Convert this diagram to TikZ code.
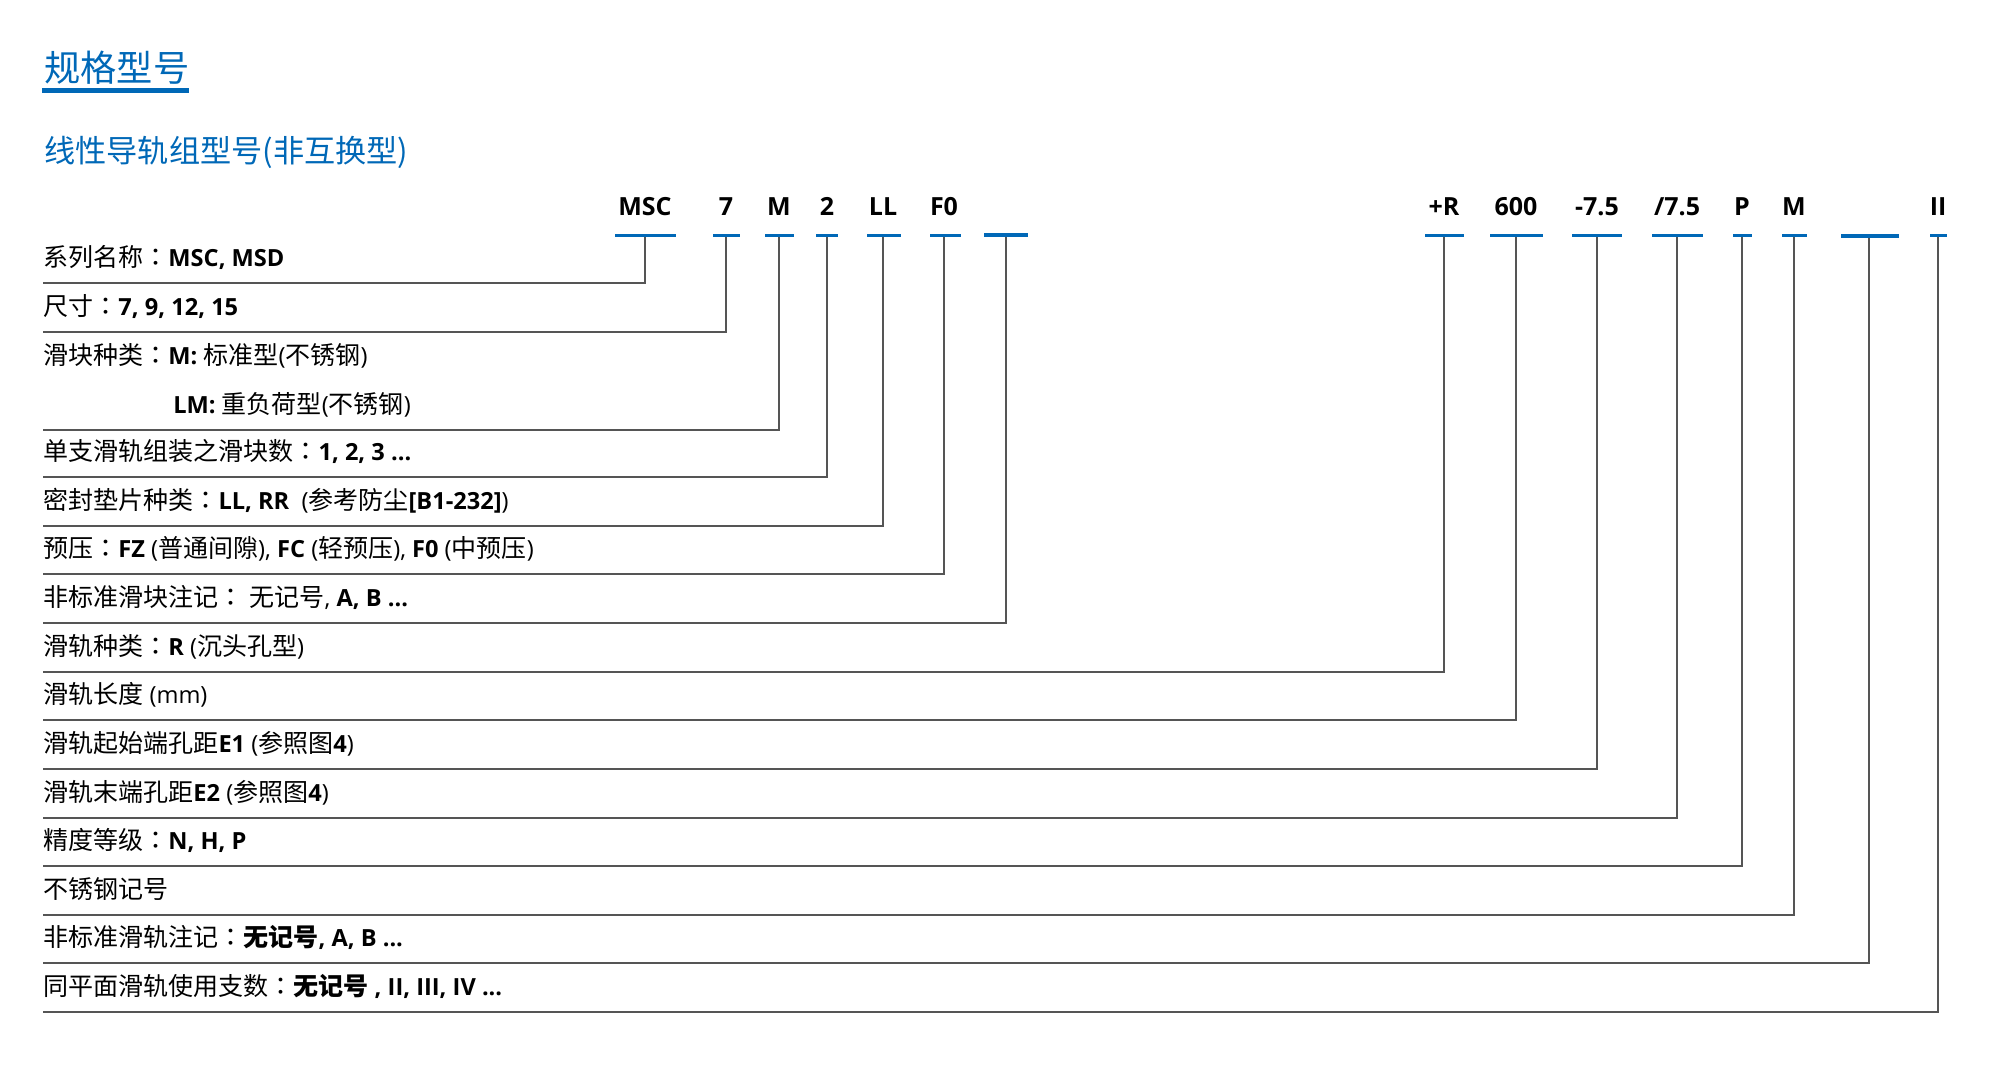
\documentclass[tikz,border=0pt]{standalone}
\usepackage{fontspec}
\setmainfont{Open Sans}
\newfontfamily\cjk[Scale=1.06]{Noto Sans CJK SC}
\newfontfamily\cjkc[Scale=1.06]{Noto Sans CJK TC}
\definecolor{brandblue}{HTML}{0068B7}
\definecolor{linegray}{HTML}{555555}
\newcommand\zh[1]{{\cjk #1}}
\newcommand\zcolon{{\cjkc ：}}
\begin{document}
\begin{tikzpicture}[x=0.5pt,y=-0.5pt,
  codetxt/.style={font=\fontsize{12.5}{15}\selectfont\bfseries, inner sep=0pt, anchor=base},
  lbl/.style={font=\fontsize{11.8}{14}\selectfont, inner sep=0pt, anchor=base west},
  uline/.style={draw=brandblue, line width=1.5pt},
  ublank/.style={draw=brandblue, line width=2pt},
  leader/.style={draw=linegray, line width=1pt},
]
\useasboundingbox (0,0) rectangle (2000,1078);

% titles
\node[inner sep=0pt, anchor=base west, text=brandblue, font=\fontsize{17.1}{20}\selectfont\cjk] (title) at (44,81) {规格型号};
\coordinate (tl) at (42,90.5);
\coordinate (tr) at (189,90.5);
\draw[draw=brandblue, line width=2.5pt] (tl) -- (tr);
\node[inner sep=0pt, anchor=base west, text=brandblue, font=\fontsize{14.7}{18}\selectfont\cjk] (subtitle) at (44,162) {线性导轨组型号(非互换型)};

% codes, underlines and leaders
\foreach \i/\xl/\xr/\xs/\yl/\t in {
  1/615/676/645/283/MSC,
  2/713/740/726/332/7,
  3/765/794/779/430/M,
  4/816/838/827/477/2,
  5/867/901/883/526/LL,
  6/930/961/944/574/F0,
  8/1425/1464/1444/672/+R,
  9/1490/1543/1516/720/600,
  10/1572/1622/1597/769/-7.5,
  11/1652/1703/1677/818/{/7.5},
  12/1733/1752/1742/866/P,
  13/1782/1807/1794/915/M,
  15/1930/1947/1938/1012/II}{
  \node[codetxt] (c\i) at (\xs,215) {\t};
  \coordinate (ul\i) at (\xl,235);
  \coordinate (ur\i) at (\xr,235);
  \coordinate (st\i) at (\xs,235);
  \coordinate (en\i) at (43,\yl);
  \draw[leader] (st\i) |- (en\i);
  \draw[uline] (ul\i) -- (ur\i);
}
\foreach \i/\xl/\xr/\xs/\yl/\yu in {
  7/984/1028/1006/623/235,
  14/1841/1899/1869/963/236}{
  \coordinate (ul\i) at (\xl,\yu);
  \coordinate (ur\i) at (\xr,\yu);
  \coordinate (st\i) at (\xs,\yu);
  \coordinate (en\i) at (43,\yl);
  \draw[leader] (st\i) |- (en\i);
  \draw[ublank] (ul\i) -- (ur\i);
}

% labels
\node[lbl] (l1) at (43,266) {\zh{系列名称}\zcolon\textbf{MSC, MSD}};
\node[lbl] (l2) at (43,315) {\zh{尺寸}\zcolon\textbf{7, 9, 12, 15}};
\node[lbl] (l3) at (43,364) {\zh{滑块种类}\zcolon\textbf{M:} \zh{标准型}(\zh{不锈钢})};
\node[lbl] (l3b) at (173,413) {\textbf{LM:} \zh{重负荷型}(\zh{不锈钢})};
\node[lbl] (l4) at (43,460) {\zh{单支滑轨组装之滑块数}\zcolon\textbf{1, 2, 3 ...}};
\node[lbl] (l5) at (43,509) {\zh{密封垫片种类}\zcolon\textbf{LL, RR} ~(\zh{参考防尘}\textbf{[B1-232]})};
\node[lbl] (l6) at (43,557) {\zh{预压}\zcolon\textbf{FZ} (\zh{普通间隙}), \textbf{FC} (\zh{轻预压}), \textbf{F0} (\zh{中预压})};
\node[lbl] (l7) at (43,606) {\zh{非标准滑块注记}\zcolon\ \zh{无记号}, \textbf{A, B ...}};
\node[lbl] (l8) at (43,655) {\zh{滑轨种类}\zcolon\textbf{R} (\zh{沉头孔型})};
\node[lbl] (l9) at (43,703) {\zh{滑轨长度} (mm)};
\node[lbl] (l10) at (43,752) {\zh{滑轨起始端孔距}\textbf{E1} (\zh{参照图}\textbf{4})};
\node[lbl] (l11) at (43,801) {\zh{滑轨末端孔距}\textbf{E2} (\zh{参照图}\textbf{4})};
\node[lbl] (l12) at (43,849) {\zh{精度等级}\zcolon\textbf{N, H, P}};
\node[lbl] (l13) at (43,898) {\zh{不锈钢记号}};
\node[lbl] (l14) at (43,946) {\zh{非标准滑轨注记}\zcolon\textbf{\zh{无记号}, A, B ...}};
\node[lbl] (l15) at (43,995) {\zh{同平面滑轨使用支数}\zcolon\textbf{\zh{无记号} , II, III, IV ...}};
\end{tikzpicture}
\end{document}
